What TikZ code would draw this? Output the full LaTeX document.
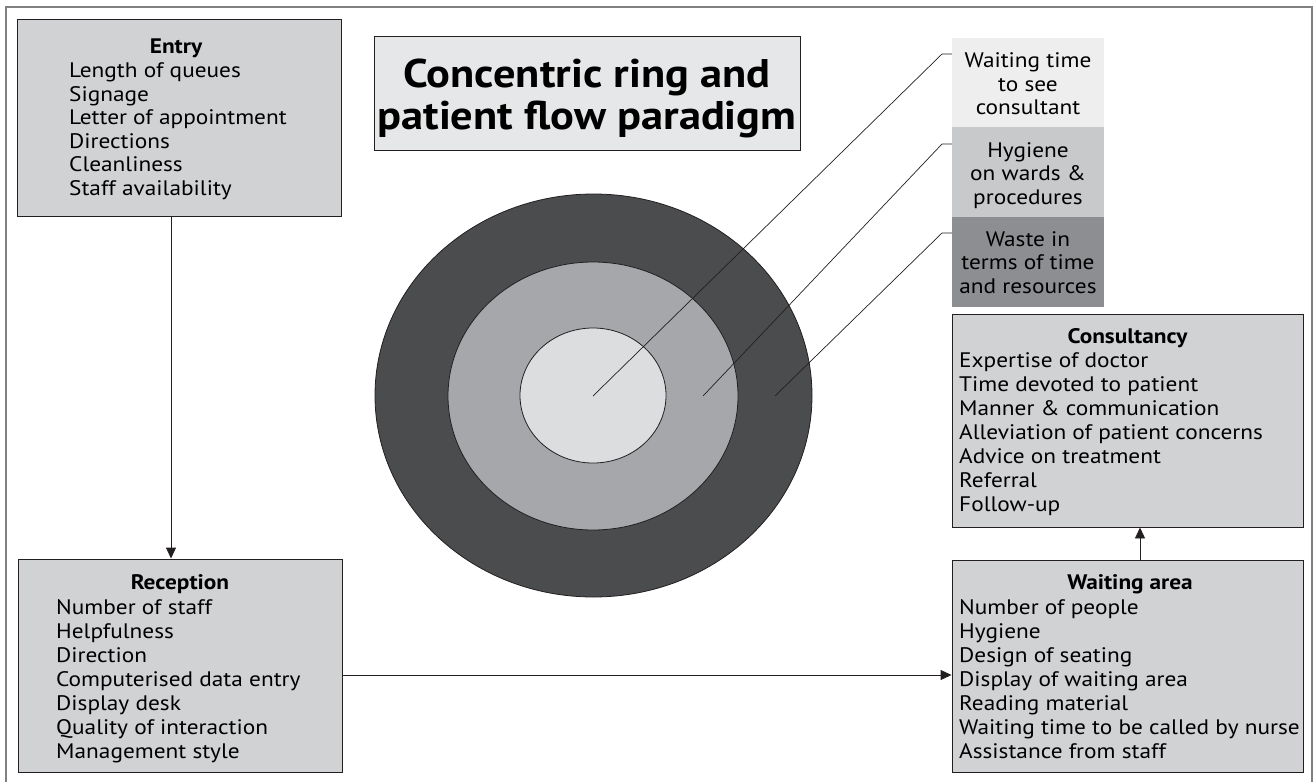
\documentclass[tikz,border=0pt]{standalone}
\usepackage{fontspec}
\setmainfont[FakeStretch=1.11]{PT Sans}
\usetikzlibrary{arrows.meta}
\definecolor{boxgray}{HTML}{D1D2D4}
\definecolor{titlegray}{HTML}{E6E7E8}
\definecolor{ringout}{HTML}{4B4C4E}
\definecolor{ringmid}{HTML}{A6A7AA}
\definecolor{ringin}{HTML}{DCDDDF}
\definecolor{labA}{HTML}{EEEEEF}
\definecolor{labB}{HTML}{C8C9CB}
\definecolor{labC}{HTML}{8D8E91}
\definecolor{inkc}{HTML}{231F20}
\definecolor{framec}{HTML}{808080}
\tikzset{
  infobox/.style={draw=inkc, line width=0.9pt, fill=boxgray, inner sep=0pt},
  boxtitle/.style={anchor=base, inner sep=0pt, font=\fontsize{21}{24}\selectfont\bfseries},
  boxlines/.style={anchor=north west, inner sep=0pt, align=left, font=\fontsize{21}{24}\selectfont},
  labbox/.style={inner sep=0pt, minimum width=152pt},
  labtext/.style={anchor=north, inner sep=0pt, align=center, font=\fontsize{21}{23.5}\selectfont},
  leader/.style={draw=inkc, line width=0.7pt},
  flow/.style={draw=inkc, line width=0.9pt, -{Triangle[length=11pt,width=10pt]}},
}
\newcommand{\fs}{\rule{0pt}{16pt}}
\begin{document}
\begin{tikzpicture}[x=1pt,y=-1pt]
\useasboundingbox (0,0) rectangle (1316,782);
% frame
\draw[framec, line width=2pt] (6,782) -- (6,7) -- (1312,7) -- (1312,782);

% rings
\draw[inkc, line width=0.8pt, fill=ringout] (593.5,395.5) ellipse [x radius=218.5, y radius=201.5];
\draw[inkc, line width=0.8pt, fill=ringmid] (593,396) ellipse [x radius=145, y radius=134];
\draw[inkc, line width=0.8pt, fill=ringin] (593,395.5) ellipse [x radius=73, y radius=67.5];

% title
\node[draw=inkc, line width=0.9pt, fill=titlegray, minimum width=426pt, minimum height=114pt, inner sep=0pt] (title) at (587,93) {};
\node[align=center, inner sep=0pt, font=\fontsize{40}{42}\selectfont\bfseries] (titlet) at (587,98)
  {Concentric ring and\\patient flow paradigm};

% ring labels
\node[labbox, fill=labA, minimum height=89pt] (labA) at (1028,82.5) {};
\node[labbox, fill=labB, minimum height=90pt] (labB) at (1028,172) {};
\node[labbox, fill=labC, minimum height=90pt] (labC) at (1028,262) {};
\node[labtext] (labAt) at (1028,51.5) {\fs Waiting time\\to see\\consultant};
\node[labtext] (labBt) at (1028,141) {\fs Hygiene\\on wards \&\\procedures};
\node[labtext] (labCt) at (1028,230) {\fs Waste in\\terms of time\\and resources};

\coordinate (c1) at (593,396);
\coordinate (c2) at (703,396);
\coordinate (c3) at (775,396);
\coordinate (e1) at (942,54);
\coordinate (e2) at (942,144);
\coordinate (e3) at (942,233);
\draw[leader] (c1) -- (e1) -- (labA.west |- e1);
\draw[leader] (c2) -- (e2) -- (labB.west |- e2);
\draw[leader] (c3) -- (e3) -- (labC.west |- e3);

% boxes
\node[infobox, minimum width=324pt, minimum height=197pt] (entry) at (179,117.5) {};
\node[boxtitle] (entryt) at (176,53) {Entry};
\node[boxlines, font=\fontsize{21}{23.6}\selectfont] (entryl) at (69,61.3)
  {\fs Length of queues\\Signage\\Letter of appointment\\Directions\\Cleanliness\\Staff availability};

\node[infobox, minimum width=324pt, minimum height=213pt] (reception) at (180,665.5) {};
\node[boxtitle] (receptiont) at (180,589) {Reception};
\node[boxlines] (receptionl) at (56,598)
  {\fs Number of staff\\Helpfulness\\Direction\\Computerised data entry\\Display desk\\Quality of interaction\\Management style};

\node[infobox, minimum width=351pt, minimum height=212pt] (waiting) at (1127.5,666) {};
\node[boxtitle] (waitingt) at (1130,589) {Waiting area};
\node[boxlines] (waitingl) at (959,598)
  {\fs Number of people\\Hygiene\\Design of seating\\Display of waiting area\\Reading material\\Waiting time to be called by nurse\\Assistance from staff};

\node[infobox, minimum width=351pt, minimum height=213pt] (consult) at (1127.5,420.5) {};
\node[boxtitle] (consultt) at (1127.5,343) {Consultancy};
\node[boxlines] (consultl) at (959,351)
  {\fs Expertise of doctor\\Time devoted to patient\\Manner \& communication\\Alleviation of patient concerns\\Advice on treatment\\Referral\\Follow-up};

% flow arrows
\draw[flow] ([xshift=-8pt]entry.south) -- ([xshift=-9pt]reception.north);
\draw[flow] ([yshift=-9.5pt]reception.east) -- ([yshift=-9pt]waiting.west);
\draw[flow] ([xshift=12.5pt]waiting.north) -- ([xshift=12.5pt]consult.south);
\end{tikzpicture}
\end{document}
